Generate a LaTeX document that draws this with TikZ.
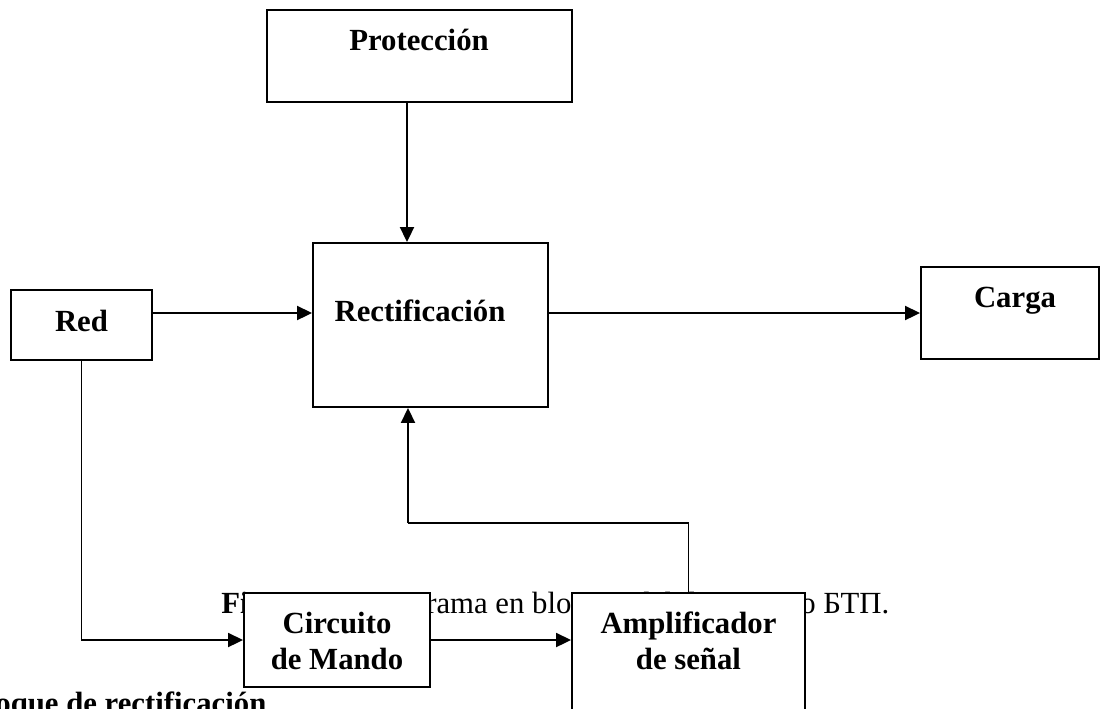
\documentclass[tikz,border=0pt]{standalone}
\usepackage{fontspec}
\setmainfont{Liberation Serif}
\usetikzlibrary{arrows.meta}

\begin{document}
\begin{tikzpicture}[x=0.02cm, y=-0.02cm,
            every node/.style={font=\fontsize{17.5}{20.5}\selectfont}]
            \tikzstyle{boxStyle} = [rectangle, draw=black, fill=white, line width=1.1pt, inner sep=0pt]
            \tikzstyle{textStyle} = [anchor=base, inner sep=0pt, font=\fontsize{17.5}{20.5}\selectfont\bfseries]
            \tikzstyle{arrowEdge} = [draw=black, line width=1.1pt, -{Triangle[length=0.3cm, width=0.28cm]}]
            \tikzstyle{plainEdge} = [draw=black, line width=1.1pt]
            \useasboundingbox (0,0) rectangle (1101,708);
            % caption text lies under the lower boxes
            \node[anchor=base west, inner sep=0pt] (caption) at (221,613)
                {\textbf{Figura 10.} Diagrama en bloques del dispositivo БТП.};
            \node[anchor=base west, inner sep=0pt, font=\fontsize{17.5}{20.5}\selectfont\bfseries] (heading) at (-34,713)
                {Bloque de rectificación};
            % blocks
            \node[boxStyle, minimum width=6.1cm, minimum height=1.84cm] (prot) at (419.5,56) {};
            \node[boxStyle, minimum width=4.7cm, minimum height=3.28cm] (rect) at (430.5,325) {};
            \node[boxStyle, minimum width=2.82cm, minimum height=1.4cm] (red) at (81.5,325) {};
            \node[boxStyle, minimum width=3.56cm, minimum height=1.84cm] (carga) at (1010,313) {};
            \node[boxStyle, minimum width=3.72cm, minimum height=1.88cm] (circ) at (337,640) {};
            \node[boxStyle, minimum width=4.66cm, minimum height=2.74cm] (amp) at (688.5,661.5) {};
            % block texts
            \node[textStyle] (protTxt) at (419,50) {Protección};
            \node[textStyle] (rectTxt) at (420,321) {Rectificación};
            \node[textStyle] (redTxt) at (81.5,331) {Red};
            \node[textStyle] (cargaTxt) at (1015,307) {Carga};
            \node[textStyle, align=center] (circTxt) at (337,669) {Circuito\\de Mando};
            \node[textStyle, align=center] (ampTxt) at (688.5,669) {Amplificador\\de señal};
            % connectors
            \coordinate (fbTurn) at (408,523);
            \path[arrowEdge] ([xshift=-0.25cm]prot.south) -- ([xshift=-0.25cm]prot.south |- rect.north);
            \path[arrowEdge] (red.east |- carga.west) -- (rect.west |- carga.west);
            \path[arrowEdge] (rect.east |- carga.west) -- (carga.west);
            \path[arrowEdge] (red.south) |- (circ.west);
            \path[arrowEdge] (circ.east) -- (circ.east -| amp.west);
            \path[plainEdge] (amp.north) |- (fbTurn);
            \path[arrowEdge] (fbTurn) -- (fbTurn |- rect.south);
\end{tikzpicture}
\end{document}
